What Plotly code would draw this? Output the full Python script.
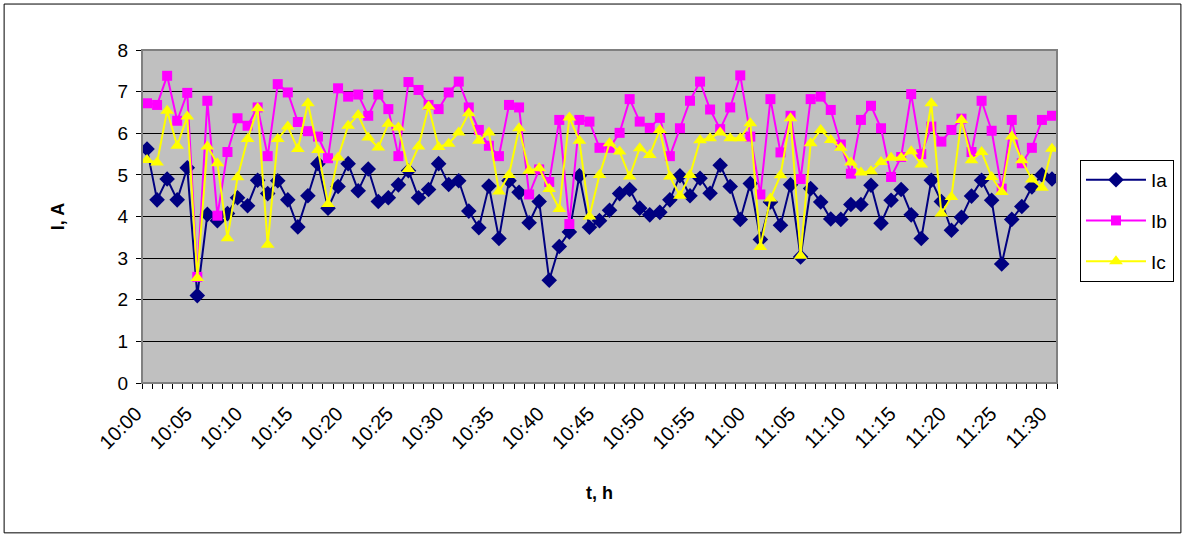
import plotly.graph_objects as go

# categories: one reading per minute, 10:00 .. 11:30
times = [f"{10 + m // 60}:{m % 60:02d}" for m in range(0, 91)]
tick_labels = ["10:00", "10:05", "10:10", "10:15", "10:20", "10:25", "10:30", "10:35",
               "10:40", "10:45", "10:50", "10:55", "11:00", "11:05", "11:10", "11:15",
               "11:20", "11:25", "11:30"]

Ia = [5.62, 4.40, 4.90, 4.40, 5.17, 2.10, 4.05, 3.90, 4.07, 4.45,
      4.26, 4.87, 4.55, 4.86, 4.40, 3.75, 4.50, 5.27, 4.20, 4.72,
      5.27, 4.62, 5.14, 4.36, 4.45, 4.76, 5.10, 4.45, 4.65, 5.27,
      4.77, 4.86, 4.13, 3.73, 4.73, 3.47, 4.86, 4.58, 3.85, 4.36,
      2.47, 3.28, 3.63, 4.98, 3.74, 3.90, 4.15, 4.55, 4.65, 4.20,
      4.04, 4.10, 4.40, 4.98, 4.50, 4.92, 4.56, 5.23, 4.72, 3.93,
      4.79, 3.45, 4.35, 3.79, 4.76, 3.03, 4.67, 4.35, 3.94, 3.93,
      4.29, 4.29, 4.75, 3.84, 4.39, 4.65, 4.04, 3.47, 4.87, 4.36,
      3.67, 3.98, 4.49, 4.87, 4.39, 2.86, 3.93, 4.24, 4.71, 5.00,
      4.90]

Ib = [6.72, 6.68, 7.38, 6.30, 6.97, 2.55, 6.78, 4.02, 5.55, 6.36,
      6.18, 6.62, 5.45, 7.18, 6.98, 6.27, 6.05, 5.92, 5.40, 7.08,
      6.88, 6.93, 6.42, 6.93, 6.58, 5.45, 7.23, 7.04, 6.68, 6.58,
      6.98, 7.24, 6.62, 6.08, 5.70, 5.45, 6.68, 6.62, 4.53, 5.13,
      4.83, 6.32, 3.82, 6.32, 6.28, 5.65, 5.65, 6.01, 6.82, 6.28,
      6.13, 6.37, 5.45, 6.12, 6.78, 7.24, 6.57, 6.10, 6.62, 7.39,
      5.92, 4.53, 6.82, 5.54, 6.42, 4.90, 6.82, 6.88, 6.56, 5.73,
      5.03, 6.32, 6.66, 6.12, 4.95, 5.43, 6.94, 5.50, 6.16, 5.80,
      6.08, 6.35, 5.55, 6.78, 6.06, 4.67, 6.32, 5.28, 5.65, 6.32,
      6.42]

Ic = [5.36, 5.30, 6.54, 5.70, 6.40, 2.52, 5.68, 5.28, 3.48, 4.94,
      5.86, 6.60, 3.32, 5.86, 6.16, 5.62, 6.72, 5.60, 4.30, 5.42,
      6.18, 6.44, 5.90, 5.66, 6.23, 6.14, 5.14, 5.68, 6.64, 5.67,
      5.75, 6.02, 6.48, 5.82, 6.02, 4.60, 5.00, 6.12, 5.10, 5.16,
      4.66, 4.18, 6.38, 5.82, 4.00, 5.00, 5.76, 5.56, 4.96, 5.64,
      5.48, 6.08, 4.96, 4.50, 5.00, 5.83, 5.88, 6.02, 5.88, 5.88,
      6.24, 3.27, 4.43, 4.99, 6.36, 3.06, 5.76, 6.08, 5.84, 5.65,
      5.30, 5.06, 5.09, 5.31, 5.41, 5.41, 5.57, 5.25, 6.72, 4.07,
      4.47, 6.32, 5.35, 5.55, 4.95, 4.59, 5.92, 5.35, 4.89, 4.69,
      5.63]

x_idx = list(range(len(times)))
tick_pos = [times.index(t) for t in tick_labels]

FONT = "Liberation Sans, Arial, sans-serif"

fig = go.Figure()
series = [
    ("Ia", Ia, "#000080", "diamond", 12),
    ("Ib", Ib, "#FF00FF", "square", 10),
    ("Ic", Ic, "#FFFF00", "triangle-up", 12),
]
for name, vals, col, sym, sz in series:
    fig.add_trace(go.Scatter(
        x=x_idx, y=vals, name=name, mode="lines+markers",
        line=dict(color=col, width=2),
        marker=dict(symbol=sym, size=sz, color=col, line=dict(width=0)),
        legendgroup=name,
        customdata=[times[i] for i in x_idx],
        hovertemplate="%{customdata}: %{y}<extra>" + name + "</extra>",
    ))

fig.update_layout(
    width=1185, height=536,
    margin=dict(l=142, r=127, t=50, b=153),
    paper_bgcolor="white",
    plot_bgcolor="#C0C0C0",
    font=dict(family=FONT, size=18, color="black"),
    showlegend=True,
    legend=dict(
        x=1.024, y=0.67, xanchor="left", yanchor="top",
        bgcolor="white", bordercolor="black", borderwidth=1,
        font=dict(size=19), tracegroupgap=13, itemwidth=60,
    ),
    shapes=[
        dict(type="rect", xref="paper", yref="paper", x0=0, x1=1, y0=0, y1=1,
             line=dict(color="#808080", width=2), layer="above"),
        dict(type="rect", xref="paper", yref="paper", x0=-0.1507, x1=1.1354,
             y0=-0.45, y1=1.138, line=dict(color="black", width=1)),
    ],
)

fig.update_xaxes(
    range=[-0.5, len(times) - 0.5],
    tickmode="array", tickvals=tick_pos, ticktext=tick_labels,
    tickangle=-45, ticks="", showgrid=False, zeroline=False,
    showline=True, linecolor="black", linewidth=1,
    tickfont=dict(size=20), ticklabelshift=-11, ticklabelstandoff=10,
    minor=dict(tickmode="linear", tick0=-0.5, dtick=1, ticks="outside",
               ticklen=5, tickcolor="black", showgrid=False),
    title=dict(text="<b>t, h</b>", font=dict(size=18), standoff=34),
)
fig.update_yaxes(
    range=[0, 8], dtick=1, ticks="outside", ticklen=5, tickcolor="black",
    showgrid=True, gridcolor="black", gridwidth=1, zeroline=False,
    showline=True, linecolor="black", linewidth=1,
    tickfont=dict(size=19), ticklabelstandoff=4,
    title=dict(text="<b>I, A</b>", font=dict(size=18), standoff=48),
)

fig.write_html("out.html")
